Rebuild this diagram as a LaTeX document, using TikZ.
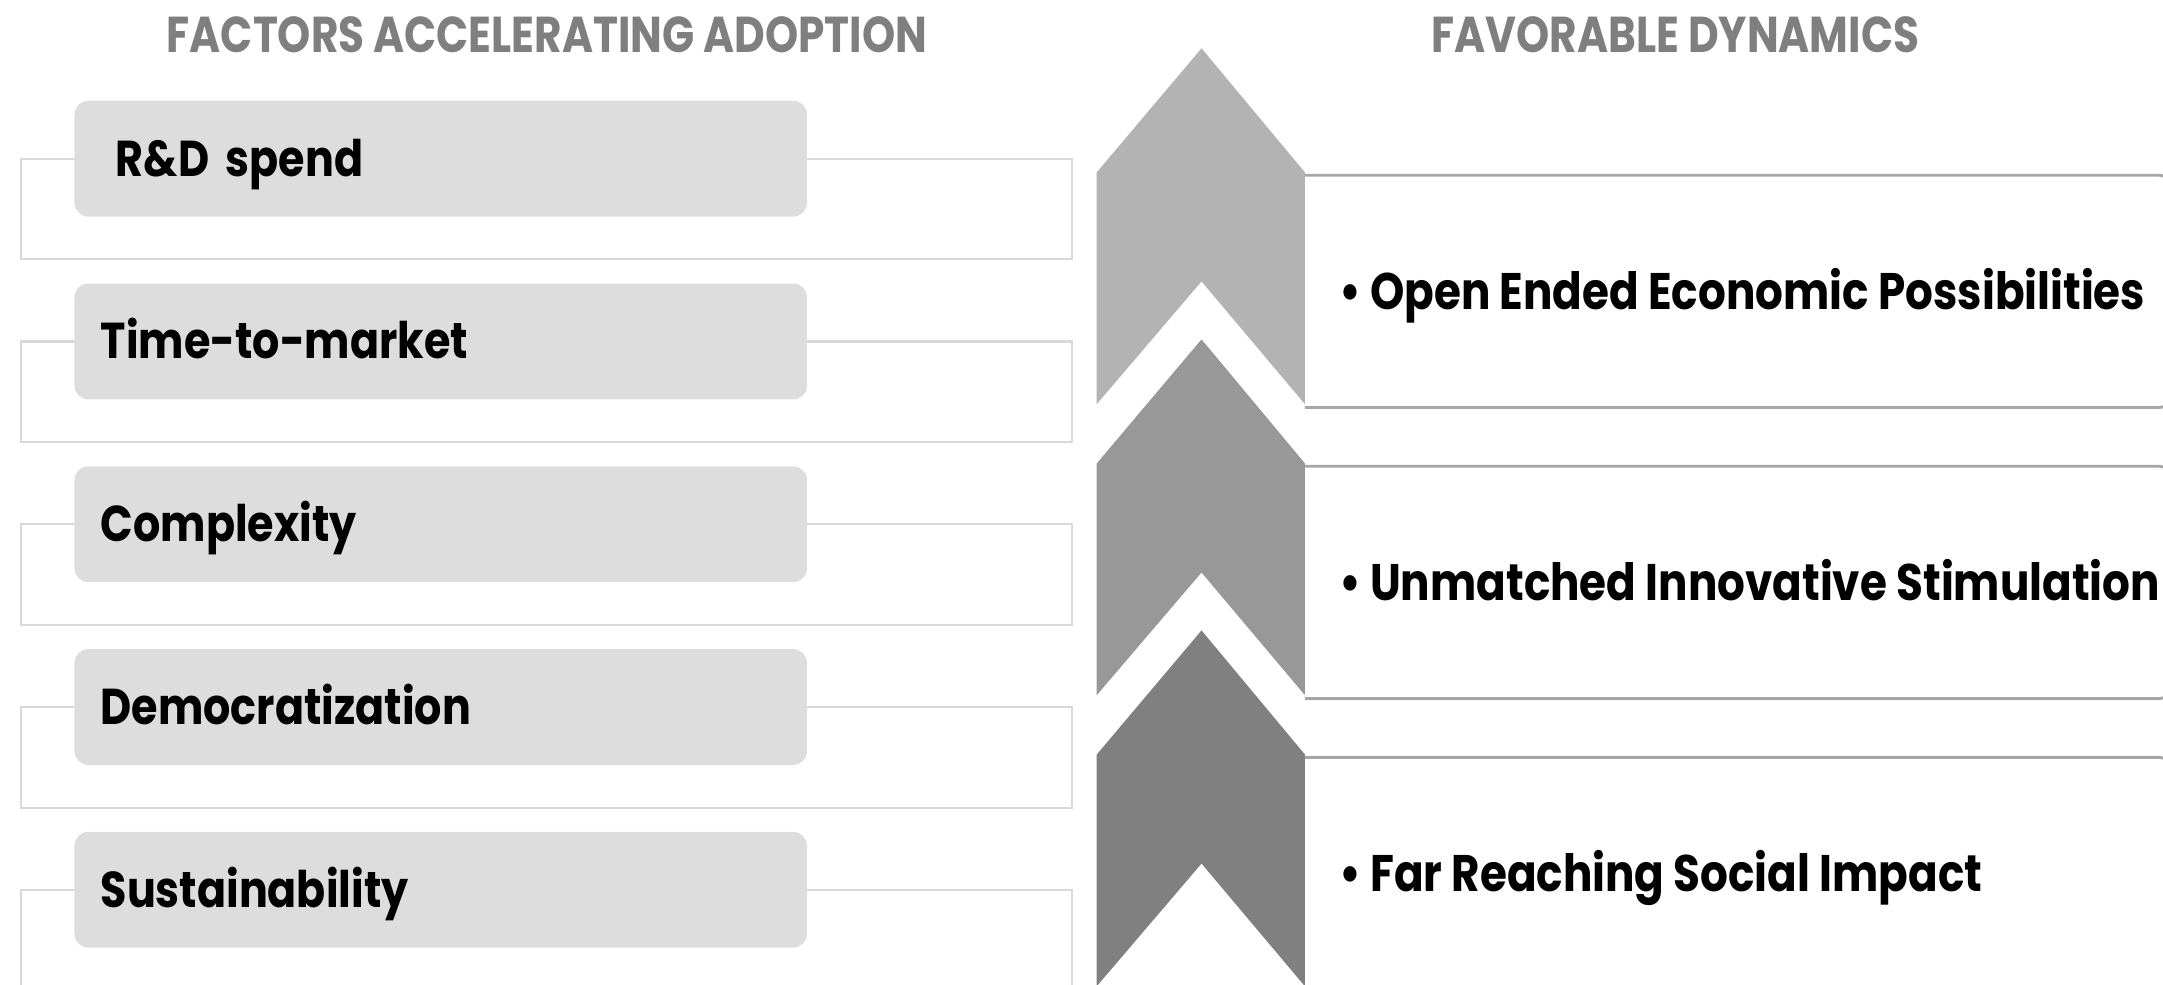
\documentclass[tikz,border=0pt]{standalone}
\usepackage{fontspec}
\usepackage{xcolor}
\newfontfamily\gothic{Poppins}[FakeStretch=0.85]
\newfontfamily\gothichead{Poppins}[FakeStretch=0.837]
\definecolor{titlegray}{HTML}{7F7F7F}
\definecolor{boxgray}{HTML}{DDDDDD}
\definecolor{framegray}{HTML}{D9D9D9}
\definecolor{linegray}{HTML}{A6A6A6}
\definecolor{chevA}{HTML}{B3B3B3}
\definecolor{chevB}{HTML}{989898}
\definecolor{chevC}{HTML}{808080}

\begin{document}
\begin{tikzpicture}[x=0.1mm,y=-0.1mm,
  heading/.style={text=titlegray,font=\gothichead\bfseries\fontsize{10.4}{12}\selectfont,inner sep=0pt},
  factor/.style={rounded corners=1mm,fill=boxgray,minimum width=53.1mm,minimum height=8.4mm,
    text width=49.3mm,align=left,inner xsep=1.9mm,text height=2.54mm,text depth=0pt,
    font=\gothic\bfseries\fontsize{10.4}{12}\selectfont},
  frame/.style={draw=framegray,line width=0.45pt},
  dynbox/.style={minimum width=62.6mm,minimum height=16.7mm,anchor=north west,inner sep=0pt},
  dynline/.style={draw=linegray,line width=0.6pt,rounded corners=0.8mm},
  dyntext/.style={anchor=west,inner sep=0pt,text height=2.6mm,text depth=0pt,
    font=\gothic\bfseries\fontsize{10.6}{13}\selectfont}]
\useasboundingbox (0,0) rectangle (1568,714);
\clip (0,0) rectangle (1568,714);

% headings
\node[heading] (h1) at (396.5,25) {FACTORS ACCELERATING ADOPTION};
\node[heading] (h2) at (1214.5,25) {FAVORABLE DYNAMICS};

% frames behind the factor boxes
\draw[frame] (15,115) rectangle (777,188);
\draw[frame] (15,247.5) rectangle (777,320.5);
\draw[frame] (15,380) rectangle (777,453);
\draw[frame] (15,512.5) rectangle (777,585.5);
\draw[frame] (15,645) rectangle (777,718);

% factor boxes
\node[factor] (f1) at (319.5,115) {\hspace*{1.1mm}R\&D spend};
\node[factor] (f2) at (319.5,247.5) {Time-to-market};
\node[factor] (f3) at (319.5,380) {Complexity};
\node[factor] (f4) at (319.5,512.5) {Democratization};
\node[factor] (f5) at (319.5,645) {Sustainability};

% boxes for the dynamics, open on the chevron side
\node[dynbox] (d1) at (946,127) {};
\node[dynbox] (d2) at (946,338) {};
\node[dynbox] (d3) at (946,549) {};
\draw[dynline] (d1.north west) -- (d1.north east) -- (d1.south east) -- (d1.south west);
\draw[dynline] (d2.north west) -- (d2.north east) -- (d2.south east) -- (d2.south west);
\draw[dynline] (d3.north west) -- (d3.north east) -- (d3.south east) -- (d3.south west);
\node[dyntext] (t1) at ([xshift=2.4mm]d1.west) {\textbullet\ Open Ended Economic Possibilities};
\node[dyntext] (t2) at ([xshift=2.4mm]d2.west) {\textbullet\ Unmatched Innovative Stimulation};
\node[dyntext] (t3) at ([xshift=2.4mm]d3.west) {\textbullet\ Far Reaching Social Impact};

% chevrons
\fill[chevA] (795,125) -- (871,35) -- (946,125) -- (946,293) -- (871,204) -- (795,293) -- cycle;
\fill[chevB] (795,336) -- (871,246) -- (946,336) -- (946,504) -- (871,415) -- (795,504) -- cycle;
\fill[chevC] (795,547) -- (871,457) -- (946,547) -- (946,715) -- (871,626) -- (795,715) -- cycle;
\end{tikzpicture}
\end{document}
